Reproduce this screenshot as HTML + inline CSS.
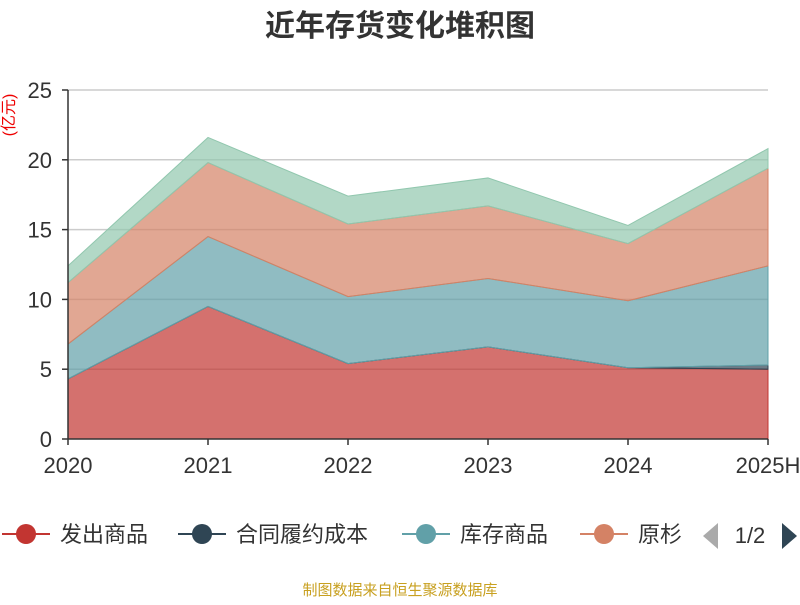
<!DOCTYPE html>
<html><head><meta charset="utf-8"><style>
body{margin:0;background:#fff;width:800px;height:600px;overflow:hidden;font-family:"Liberation Sans","Noto Sans CJK SC",sans-serif}
</style></head><body>
<svg width="800" height="600" xmlns="http://www.w3.org/2000/svg" font-family="Liberation Sans, Noto Sans CJK SC, sans-serif">
<text x="400" y="36" text-anchor="middle" font-size="30" font-weight="bold" fill="#333">近年存货变化堆积图</text>
<text transform="translate(14,115) rotate(-90)" text-anchor="middle" font-size="16" fill="#e00">(亿元)</text>
<g id="grid"></g>
<g id="areas"></g>
<g id="axes"></g>
<g id="legend"></g>
<path d="M718 523 L703 536 L718 549 Z" fill="#aaa"/>
<text x="750" y="543" text-anchor="middle" font-size="22" fill="#333">1/2</text>
<path d="M782 523 L797 536 L782 549 Z" fill="#2f4554"/>
<text x="400" y="595" text-anchor="middle" font-size="15" fill="#c8a020">制图数据来自恒生聚源数据库</text>
</svg>
<script>
const categories=["2020","2021","2022","2023","2024","2025H"];
const seriesNames=["发出商品","合同履约成本","库存商品","原材料","在产品"];
const s1=[4.3,9.5,5.4,6.6,5.1,5.0];
const s2=[0,0,0,0,0,0.3];
const s3=[2.5,5.0,4.8,4.9,4.8,7.1];
const s4=[4.4,5.3,5.2,5.2,4.1,7.0];
const s5=[1.2,1.8,2.0,2.0,1.3,1.4];
const yTicks=[0,5,10,15,20,25];
const colors=["#c23531","#2f4554","#61a0a8","#d48265","#91c7ae"];
const NS="http://www.w3.org/2000/svg";
const x=i=>68+i*140, y=v=>439-v*(349/25);
function mk(t,a,p){const e=document.createElementNS(NS,t);for(const k in a)e.setAttribute(k,a[k]);p.appendChild(e);return e;}
const grid=document.getElementById('grid'),areas=document.getElementById('areas'),axes=document.getElementById('axes'),leg=document.getElementById('legend');
yTicks.forEach(v=>{
 if(v>0){const g=mk('line',{x1:68,x2:768,y1:y(v),y2:y(v),stroke:'#ccc','stroke-width':1.5},grid);
 
 }
 const t=mk('text',{x:52,y:y(v)+8,'text-anchor':'end','font-size':22,fill:'#333'},axes);t.textContent=v;
 
 
 mk('line',{x1:62,x2:68,y1:y(v),y2:y(v),stroke:'#333','stroke-width':1.5},axes);
});
const all=[s1,s2,s3,s4,s5];let base=categories.map(()=>0);
all.forEach((s,k)=>{
 const top=base.map((b,i)=>b+s[i]);
 let d='M'+categories.map((c,i)=>x(i)+' '+y(top[i])).join(' L');
 for(let i=categories.length-1;i>=0;i--)d+=' L'+x(i)+' '+y(base[i]);
 const p=mk('path',{d:d+'Z',fill:colors[k],'fill-opacity':0.7,stroke:colors[k],'stroke-width':1},areas);
 
 
 base=top;
});
mk('line',{x1:68,x2:68,y1:90,y2:439,stroke:'#333','stroke-width':1.5},axes);
mk('line',{x1:68,x2:768,y1:439,y2:439,stroke:'#333','stroke-width':1.5},axes);
categories.forEach((c,i)=>{
 mk('line',{x1:x(i),x2:x(i),y1:439,y2:445,stroke:'#333','stroke-width':1.5},axes);
 const t=mk('text',{x:x(i),y:473,'text-anchor':'middle','font-size':22,fill:'#333'},axes);t.textContent=c;
 
 
});
const lx=[2,178,402,580];const labels=["发出商品","合同履约成本","库存商品","原杉"];
lx.forEach((lxx,k)=>{
 const g=mk('g',{},leg);
 
 
 mk('line',{x1:lxx,x2:lxx+48,y1:534,y2:534,stroke:colors[k],'stroke-width':2},g);
 mk('circle',{cx:lxx+24,cy:534,r:10,fill:colors[k]},g);
 const t=mk('text',{x:lxx+58,y:542,'font-size':22,fill:'#333'},g);t.textContent=labels[k];
});
</script>
</body></html>
